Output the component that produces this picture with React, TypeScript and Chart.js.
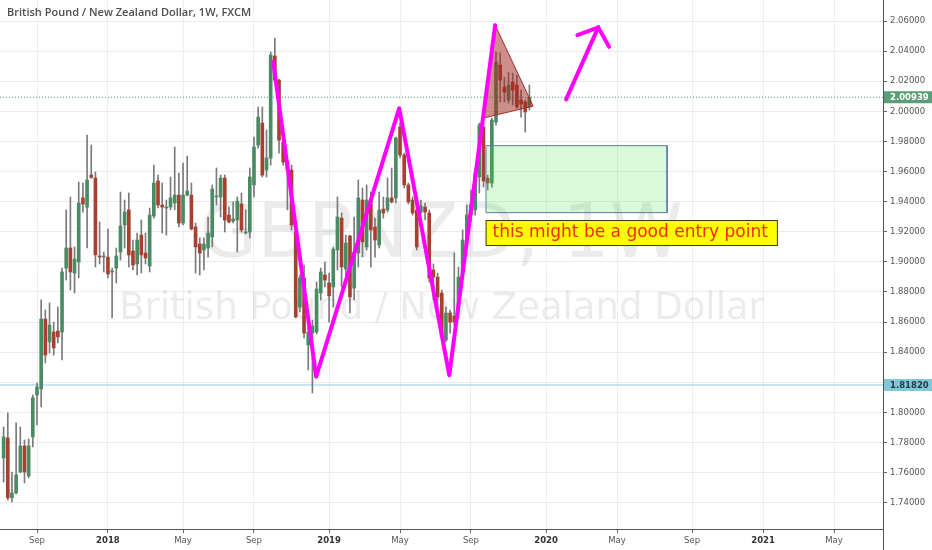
import { useEffect, useRef } from 'react';
import { Chart, registerables } from 'chart.js';

Chart.register(...registerables);

// weekly GBP/NZD candles, week 0 = first week of Sep 2017
const firstWeek = -8;

const opens = [
  1.7697, 1.7830, 1.7432, 1.7465, 1.7604, 1.7777, 1.7578, 1.7837, 1.8116, 1.8156,
  1.8620, 1.8468, 1.8534, 1.8540, 1.8534, 1.8959, 1.9092, 1.8926, 1.8999, 1.9425,
  1.9364, 1.9577, 1.9557, 1.9039, 1.9032, 1.9032, 1.8933, 1.8959, 1.9065, 1.9245,
  1.9345, 1.9072, 1.8986, 1.9178, 1.9059, 1.8972, 1.9305, 1.9537, 1.9378, 1.9358,
  1.9364, 1.9391, 1.9444, 1.9258, 1.9444, 1.9444, 1.9232, 1.9119, 1.9079, 1.9092,
  1.9165, 1.9431, 1.9431, 1.9557, 1.9311, 1.9271, 1.9278, 1.9384, 1.9192, 1.9198,
  1.9511, 1.9776, 1.9922, 1.9610, 1.9690, 2.0368, 2.0208, 1.9796, 1.9663, 1.9610,
  1.9198, 1.8700, 1.8893, 1.8448, 1.8527, 1.8534, 1.8793, 1.8913, 1.8860, 1.8833,
  1.9079, 1.9291, 1.8953, 1.9172, 1.8826, 1.9059, 1.9411, 1.9099, 1.9411, 1.9232,
  1.9112, 1.9351, 1.9345, 1.9425, 1.9425, 1.9896, 1.9710, 1.9511, 1.9411, 1.9345,
  1.9331, 1.9364, 1.9325, 1.8946, 1.8899, 1.8793, 1.8481, 1.8660, 1.8640, 1.8700,
  1.8926, 1.9145, 1.9311, 1.9345, 1.9564, 1.9896, 1.9557, 1.9524, 1.9929, 2.0308,
  2.0162, 2.0075, 2.0195, 2.0175, 2.0075, 2.0062, 2.0029,
];
const highs = [
  1.7903, 1.7996, 1.7604, 1.7930, 1.7903, 1.7817, 1.7823, 1.8116, 1.8195, 1.8747,
  1.8680, 1.8727, 1.8600, 1.8700, 1.8959, 1.9345, 1.9431, 1.9099, 1.9530, 1.9524,
  1.9843, 1.9776, 1.9597, 1.9265, 1.9065, 1.9218, 1.8959, 1.9092, 1.9464, 1.9411,
  1.9458, 1.9145, 1.9192, 1.9278, 1.9192, 1.9358, 1.9643, 1.9577, 1.9524, 1.9411,
  1.9564, 1.9763, 1.9590, 1.9657, 1.9703, 1.9524, 1.9258, 1.9159, 1.9159, 1.9298,
  1.9511, 1.9624, 1.9577, 1.9577, 1.9364, 1.9398, 1.9431, 1.9458, 1.9345, 1.9624,
  1.9829, 2.0029, 2.0029, 1.9876, 2.0394, 2.0487, 2.0215, 1.9809, 1.9677, 1.9643,
  1.9225, 1.8913, 1.8979, 1.8580, 1.8614, 1.8866, 1.8959, 1.8999, 1.8926, 1.9099,
  1.9431, 1.9325, 1.9178, 1.9178, 1.9298, 1.9544, 1.9491, 1.9511, 1.9464, 1.9291,
  1.9464, 1.9431, 1.9557, 1.9624, 1.9829, 1.9922, 1.9723, 1.9524, 1.9431, 1.9411,
  1.9411, 1.9391, 1.9345, 1.8986, 1.8926, 1.8813, 1.8700, 1.8680, 1.9059, 1.8966,
  1.9212, 1.9378, 1.9477, 1.9624, 1.9922, 1.9922, 1.9577, 1.9955, 2.0394, 2.0387,
  2.0228, 2.0261, 2.0255, 2.0241, 2.0142, 2.0075, 2.0175,
];
const lows = [
  1.7537, 1.7418, 1.7405, 1.7458, 1.7598, 1.7531, 1.7564, 1.7770, 1.7916, 1.8036,
  1.8328, 1.8394, 1.8381, 1.8461, 1.8348, 1.8879, 1.8813, 1.8793, 1.8893, 1.9331,
  1.9092, 1.9555, 1.8966, 1.8986, 1.8933, 1.8893, 1.8627, 1.8860, 1.9012, 1.9092,
  1.8966, 1.8946, 1.8913, 1.8926, 1.8986, 1.8933, 1.9291, 1.9358, 1.9192, 1.9178,
  1.9345, 1.9345, 1.9232, 1.9245, 1.9438, 1.9212, 1.8926, 1.8913, 1.8946, 1.9032,
  1.9099, 1.9378, 1.9298, 1.9198, 1.9258, 1.9258, 1.9065, 1.9198, 1.9185, 1.9159,
  1.9431, 1.9756, 1.9564, 1.9564, 1.9643, 2.0201, 1.9723, 1.9643, 1.9345, 1.9212,
  1.8627, 1.8667, 1.8494, 1.8282, 1.8129, 1.8521, 1.8747, 1.8833, 1.8600, 1.8700,
  1.8946, 1.8833, 1.8860, 1.8660, 1.8747, 1.8966, 1.9032, 1.9079, 1.8966, 1.9032,
  1.9092, 1.9291, 1.9331, 1.9391, 1.9391, 1.9690, 1.9491, 1.9384, 1.9311, 1.9079,
  1.9318, 1.9278, 1.8866, 1.8747, 1.8700, 1.8481, 1.8468, 1.8527, 1.8580, 1.8627,
  1.8879, 1.9112, 1.9265, 1.9311, 1.9458, 1.9497, 1.9477, 1.9497, 1.9909, 2.0062,
  2.0062, 2.0055, 2.0042, 2.0022, 1.9962, 1.9863, 2.0009,
];
const closes = [
  1.7837, 1.7432, 1.7465, 1.7584, 1.7777, 1.7604, 1.7777, 1.8096, 1.8169, 1.8620,
  1.8381, 1.8580, 1.8428, 1.8501, 1.8933, 1.9092, 1.8933, 1.9019, 1.9391, 1.9384,
  1.9544, 1.9561, 1.9046, 1.9032, 1.9039, 1.8920, 1.8940, 1.9039, 1.9238, 1.9331,
  1.9046, 1.8979, 1.9145, 1.9046, 1.9026, 1.9311, 1.9524, 1.9378, 1.9364, 1.9361,
  1.9425, 1.9444, 1.9258, 1.9444, 1.9471, 1.9218, 1.9099, 1.9059, 1.9119, 1.9192,
  1.9484, 1.9438, 1.9557, 1.9278, 1.9265, 1.9285, 1.9404, 1.9212, 1.9198, 1.9564,
  1.9763, 1.9962, 1.9577, 1.9690, 2.0374, 2.0208, 1.9809, 1.9663, 1.9610, 1.9245,
  1.8634, 1.8893, 1.8527, 1.8534, 1.8574, 1.8820, 1.8933, 1.8879, 1.8774, 1.9085,
  1.9298, 1.8966, 1.9125, 1.8767, 1.9065, 1.9425, 1.9132, 1.9411, 1.9212, 1.9145,
  1.9345, 1.9325, 1.9425, 1.9398, 1.9823, 1.9710, 1.9511, 1.9398, 1.9325, 1.9099,
  1.9371, 1.9331, 1.8893, 1.8899, 1.8767, 1.8501, 1.8660, 1.8600, 1.8600, 1.8899,
  1.9145, 1.9311, 1.9378, 1.9590, 1.9909, 1.9537, 1.9524, 1.9942, 2.0328, 2.0208,
  2.0128, 2.0175, 2.0142, 2.0029, 2.0048, 1.9996, 2.0094,
];

const tickWeeks = [0, 17, 35, 52, 70, 87, 104, 122, 139, 157, 174, 191];
const tickLabels = ['Sep', '2018', 'May', 'Sep', '2019', 'May', 'Sep', '2020', 'May', 'Sep', '2021', 'May'];
const priceTicks = [1.74, 1.76, 1.78, 1.8, 1.82, 1.84, 1.86, 1.88, 1.9, 1.92, 1.94, 1.96, 1.98, 2.0, 2.02, 2.04, 2.06];

const lastPrice = 2.00939;
const supportLevel = 1.8182;

// hand drawn things on the chart (week, price)
const zigzagWeeks = [56.6, 66.9, 86.8, 98.8, 109.8];
const zigzagPrices = [2.033, 1.8237, 2.002, 1.8247, 2.0573];
const triangleWeeks = [109.8, 106.7, 118.9, 109.8];
const trianglePrices = [2.0573, 1.9954, 2.0035, 2.0573];
const shaftWeeks = [126.8, 134.5];
const shaftPrices = [2.008, 2.0558];
const headWeeks = [129.5, 134.5, 137.1];
const headPrices = [2.0507, 2.0558, 2.0429];
const boxWeeks = [107.6, 151.0];
const boxPrices = [1.9772, 1.9327];
const noteWeek = 107.5;
const notePrice = 1.9278;
const noteText = 'this might be a good entry point';

const title = 'British Pound / New Zealand Dollar, 1W, FXCM';
const markSymbol = 'GBPNZD, 1W';
const markName = 'British Pound / New Zealand Dollar';

const xMin = -8.867;
const xMax = 202.74;
const yMin = 1.7225;
const yMax = 2.074;

const pts = (xs: number[], ys: number[]) => xs.map((x, i) => ({ x, y: ys[i] }));

// price tags on the axis hide the tick label they sit on
const hiddenByTag = (v: number) =>
    Math.abs(v - supportLevel) < 0.006 || Math.abs(v - lastPrice) < 0.006;

const overlay = {
    id: 'overlay',
    beforeDatasetsDraw(chart: any) {
        const { ctx, chartArea: a } = chart;
        ctx.save();
        ctx.fillStyle = 'rgba(0,0,0,0.08)';
        ctx.textAlign = 'center';
        ctx.textBaseline = 'alphabetic';
        const cx = (a.left + a.right) / 2;
        ctx.font = '74px "DejaVu Sans"';
        ctx.fillText(markSymbol, cx, a.top + a.height * 0.486);
        ctx.font = '37px "DejaVu Sans"';
        ctx.fillText(markName, cx, a.top + a.height * 0.603);
        ctx.restore();
    },
    afterDatasetsDraw(chart: any) {
        const { ctx } = chart;
        const xs = chart.scales.x;
        const ys = chart.scales.y;
        ctx.save();
        // title
        ctx.font = '600 11px "Open Sans"';
        ctx.fillStyle = '#4d4d4d';
        ctx.textAlign = 'left';
        ctx.textBaseline = 'middle';
        ctx.fillText(title, 7, 13);
        // note label
        ctx.font = '17px "DejaVu Sans"';
        const left = xs.getPixelForValue(noteWeek);
        const top = ys.getPixelForValue(notePrice);
        const w = ctx.measureText(noteText).width + 16;
        ctx.fillStyle = '#ffff00';
        ctx.fillRect(left, top, w, 25);
        ctx.strokeStyle = '#3a3a10';
        ctx.lineWidth = 1;
        ctx.strokeRect(left + 0.5, top + 0.5, w, 25);
        ctx.fillStyle = '#f52a10';
        ctx.fillText(noteText, left + 7, top + 13);
        ctx.restore();
    },
    afterDraw(chart: any) {
        const { ctx, chartArea: a } = chart;
        const ys = chart.scales.y;
        ctx.save();
        ctx.strokeStyle = '#555';
        ctx.lineWidth = 1;
        ctx.beginPath();
        ctx.moveTo(a.right + 0.5, a.bottom);
        ctx.lineTo(a.right + 0.5, chart.height);
        ctx.stroke();
        const tag = (v: number, bg: string, fg: string) => {
            const y = ys.getPixelForValue(v);
            ctx.fillStyle = bg;
            ctx.fillRect(a.right + 1, y - 6, chart.width - a.right, 12);
            ctx.fillStyle = fg;
            ctx.font = 'bold 8.5px "DejaVu Sans"';
            ctx.textAlign = 'left';
            ctx.textBaseline = 'middle';
            ctx.fillText(v.toFixed(5), a.right + 7, y + 0.5);
        };
        tag(lastPrice, '#5c9d79', '#ffffff');
        tag(supportLevel, '#80c8d8', '#1c3940');
        ctx.restore();
    },
};

const App = () => {
    const chartRef = useRef(null);

    useEffect(() => {
        let myChart: any = null;
        if (chartRef.current) {
            const weeks = opens.map((_, i) => firstWeek + i);
            const up = closes.map((c, i) => c >= opens[i]);

            myChart = new Chart(chartRef.current, {
                type: 'bar',
                data: {
                    datasets: [
                        {
                            type: 'line',
                            data: pts(zigzagWeeks, zigzagPrices),
                            borderColor: '#ff00ff',
                            borderWidth: 4,
                            pointRadius: 0,
                            borderJoinStyle: 'round',
                            borderCapStyle: 'round',
                            order: 0,
                        },
                        {
                            type: 'line',
                            data: pts(triangleWeeks, trianglePrices),
                            borderColor: '#a52a2a',
                            borderWidth: 1,
                            backgroundColor: 'rgba(160,40,30,0.52)',
                            fill: 'shape',
                            pointRadius: 0,
                            order: 0,
                        },
                        {
                            type: 'line',
                            data: pts(shaftWeeks, shaftPrices),
                            borderColor: '#ff00ff',
                            borderWidth: 4,
                            pointRadius: 0,
                            borderCapStyle: 'round',
                            order: 0,
                        },
                        {
                            type: 'line',
                            data: pts(headWeeks, headPrices),
                            borderColor: '#ff00ff',
                            borderWidth: 4,
                            pointRadius: 0,
                            borderCapStyle: 'round',
                            borderJoinStyle: 'miter',
                            order: 0,
                        },
                        {
                            type: 'line',
                            data: pts(
                                [boxWeeks[0], boxWeeks[1], boxWeeks[1], boxWeeks[0], boxWeeks[0]],
                                [boxPrices[0], boxPrices[0], boxPrices[1], boxPrices[1], boxPrices[0]]
                            ),
                            borderColor: '#5b7aa6',
                            borderWidth: 1,
                            backgroundColor: 'rgba(60,230,60,0.2)',
                            fill: 'shape',
                            pointRadius: 0,
                            order: 0,
                        },
                        {
                            type: 'bar',
                            data: weeks.map((w, i) => ({ x: w, y: [opens[i], closes[i]] })),
                            backgroundColor: up.map((u) => (u ? '#4b8b64' : '#a8402f')),
                            borderWidth: 0,
                            barThickness: 3,
                            minBarLength: 1,
                            grouped: false,
                            order: 1,
                        },
                        {
                            type: 'bar',
                            data: weeks.map((w, i) => ({ x: w, y: [lows[i], highs[i]] })),
                            backgroundColor: '#7a7a7c',
                            borderWidth: 0,
                            barThickness: 1,
                            grouped: false,
                            order: 2,
                        },
                        {
                            type: 'line',
                            data: pts([xMin, xMax], [lastPrice, lastPrice]),
                            borderColor: '#4e9a7a',
                            borderWidth: 1,
                            borderDash: [1, 2],
                            pointRadius: 0,
                            order: 3,
                        },
                        {
                            type: 'line',
                            data: pts([xMin, xMax], [supportLevel, supportLevel]),
                            borderColor: '#8fcfe0',
                            borderWidth: 1,
                            pointRadius: 0,
                            order: 3,
                        },
                    ],
                },
                options: {
                    animation: false,
                    responsive: true,
                    maintainAspectRatio: false,
                    events: [],
                    layout: { padding: 0 },
                    plugins: {
                        legend: { display: false },
                        tooltip: { enabled: false },
                    },
                    scales: {
                        x: {
                            type: 'linear',
                            min: xMin,
                            max: xMax,
                            offset: false,
                            afterBuildTicks: (s: any) => {
                                s.ticks = tickWeeks.map((v) => ({ value: v }));
                            },
                            afterFit: (s: any) => {
                                s.height = 21;
                                s.paddingLeft = 0;
                                s.paddingRight = 0;
                            },
                            grid: { color: '#eeeeee', tickColor: '#666', tickLength: 4, offset: false },
                            border: { color: '#555', width: 1 },
                            ticks: {
                                autoSkip: false,
                                maxRotation: 0,
                                padding: 3,
                                callback: (_v: any, i: number) => tickLabels[i],
                                color: (c: any) => (/^\d{4}$/.test(tickLabels[c.index]) ? '#333' : '#555'),
                                font: (c: any) => ({
                                    family: 'DejaVu Sans',
                                    size: 8.5,
                                    weight: /^\d{4}$/.test(tickLabels[c.index]) ? 'bold' : 'normal',
                                }),
                            },
                        },
                        y: {
                            type: 'linear',
                            position: 'right',
                            min: yMin,
                            max: yMax,
                            afterBuildTicks: (s: any) => {
                                s.ticks = priceTicks.map((v) => ({ value: v }));
                            },
                            afterFit: (s: any) => {
                                s.width = 49;
                                s.paddingTop = 0;
                                s.paddingBottom = 0;
                            },
                            grid: { color: '#ebebeb', tickColor: '#666', tickLength: 4 },
                            border: { color: '#555', width: 1 },
                            ticks: {
                                padding: 3,
                                callback: (v: any) => (hiddenByTag(Number(v)) ? '' : Number(v).toFixed(5)),
                                color: '#555',
                                font: { family: 'DejaVu Sans', size: 8.5 },
                            },
                        },
                    },
                },
                plugins: [overlay],
            });
        }

        return () => {
            if (myChart) {
                myChart.destroy();
            }
        };
    }, []);

    return (
        <div style={{ position: 'fixed', left: 0, top: 0, width: 932, height: 550 }}>
            <canvas ref={chartRef}></canvas>
        </div>
    );
};

export default App;
